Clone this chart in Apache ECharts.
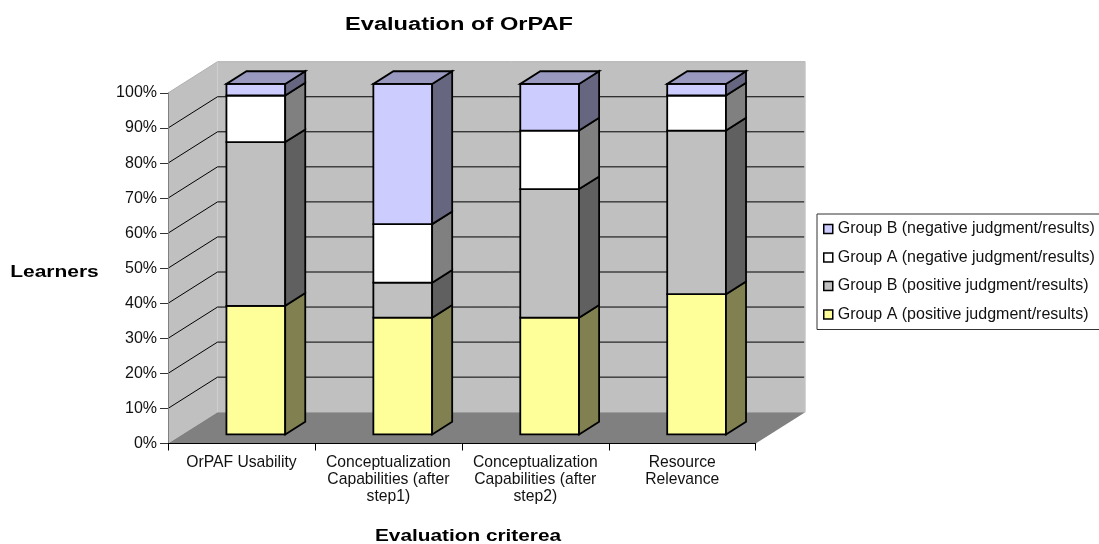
<!DOCTYPE html>
<html><head><meta charset="utf-8">
<style>html,body{margin:0;padding:0;background:#fff}#c{width:1099px;height:544px}</style>
<script src="https://cdn.jsdelivr.net/npm/echarts@6/dist/echarts.min.js"></script>
</head><body><div id="c"></div>
<script>
const chartTitle = 'Evaluation of OrPAF';
const xAxisTitle = 'Evaluation criterea';
const yAxisTitle = 'Learners';
const categories = ['OrPAF Usability','Conceptualization\nCapabilities (after\nstep1)','Conceptualization\nCapabilities (after\nstep2)','Resource\nRelevance'];
const groupAPositive = [36.7, 33.3, 33.3, 40.0];
const groupBPositive = [46.7, 10.0, 36.7, 46.7];
const groupANegative = [13.3, 16.7, 16.7, 10.0];
const groupBNegative = [3.3, 40.0, 13.3, 3.3];
const gridTicks = [10,20,30,40,50,60,70,80,90];
const names = ['Group A (positive judgment/results)','Group B (positive judgment/results)','Group A (negative judgment/results)','Group B (negative judgment/results)'];

const FONT = '"Liberation Sans", Arial, sans-serif';
const DX = 49.5, DY = -31.3;       // depth vector of the 3D box
const FRONT = 0.29, BACK = 0.695;  // bar position within the depth
const BAR = 0.4;                   // bar width as share of band

function poly(points, fill, stroke, w){
  return {type:'polygon', shape:{points}, style:{fill, stroke, lineWidth:w||0}, silent:true};
}
function line(x1,y1,x2,y2,stroke,w){
  return {type:'line', shape:{x1,y1,x2,y2}, style:{stroke, lineWidth:w||1, fill:null}, silent:true};
}
function renderWalls(params, api){
  const x0 = api.coord([0,0])[0] - api.size([1,0])[0]/2;
  const x1 = x0 + api.size([1,0])[0]*categories.length;
  const y0 = api.coord([0,0])[1], y100 = api.coord([0,100])[1];
  const kids = [
    poly([[x0,y0],[x0+DX,y0+DY],[x0+DX,y100+DY],[x0,y100]],'#c0c0c0'),
    poly([[x0+DX,y0+DY],[x1+DX,y0+DY],[x1+DX,y100+DY],[x0+DX,y100+DY]],'#c0c0c0'),
    poly([[x0,y0],[x1,y0],[x1+DX,y0+DY],[x0+DX,y0+DY]],'#808080'),
    line(x0,y100,x0+DX,y100+DY,'#b0b0b0',1),
    line(x0+DX,y100+DY,x1+DX,y100+DY,'#b0b0b0',1),
    line(x1+DX,y100+DY,x1+DX,y0+DY,'#c8c8c8',1)
  ];
  gridTicks.forEach(t=>{
    const y = api.coord([0,t])[1];
    kids.push(line(x0,y,x0+DX,y+DY,'#000',1));
    kids.push(line(x0+DX,y+DY,x1+DX-1,y+DY,'#000',1));
  });
  return {type:'group', children:kids};
}
function makeBars(idx, front, side, top){
  return function(params, api){
    const i = api.value(0), base = api.value(1), val = api.value(2);
    const band = api.size([1,0])[0];
    const cx = api.coord([i,0])[0];
    const yb = api.coord([i,base])[1], yt = api.coord([i,base+val])[1];
    const fx = DX*FRONT, fy = DY*FRONT, bx = DX*BACK, by = DY*BACK;
    const L = cx - band*BAR/2 + fx, R = cx + band*BAR/2 + fx;
    const depX = bx-fx, depY = by-fy;
    const s = '#000', w = 1.8;
    const kids = [
      poly([[L,yb+fy],[R,yb+fy],[R,yt+fy],[L,yt+fy]],front,s,w),
      poly([[R,yb+fy],[R+depX,yb+fy+depY],[R+depX,yt+fy+depY],[R,yt+fy]],side,s,w)
    ];
    if(top) kids.push(poly([[L,yt+fy],[R,yt+fy],[R+depX,yt+fy+depY],[L+depX,yt+fy+depY]],top,s,w));
    return {type:'group', children:kids};
  };
}
const stacks = [groupAPositive, groupBPositive, groupANegative, groupBNegative];
const styles = [
  ['#ffff99','#808050',null],
  ['#c0c0c0','#606060',null],
  ['#ffffff','#808080',null],
  ['#ccccff','#666680','#9999bf']
];
const running = categories.map(()=>0);
const barSeries = stacks.map((vals,k)=>{
  const data = vals.map((v,i)=>{ const d=[i,running[i],v]; running[i]+=v; return d; });
  return {
    type:'custom', name:names[k], coordinateSystem:'cartesian2d', z:3+k,
    itemStyle:{color:styles[k][0]},
    encode:{x:0,y:[1,2]},
    renderItem:makeBars(k,styles[k][0],styles[k][1],styles[k][2]),
    data
  };
});
function wideText(text,x,y,size,sx){
  return {type:'text',x,y,scaleX:sx,silent:true,
    style:{text,fontFamily:FONT,fontWeight:'bold',fontSize:size,fill:'#000',textAlign:'center',textVerticalAlign:'middle'}};
}
const chart = echarts.init(document.getElementById('c'),null,{renderer:'canvas'});
chart.setOption({
  animation:false,
  backgroundColor:'#fff',
  textStyle:{fontFamily:FONT},
  grid:{left:168,right:343.3,top:93,bottom:100.5,outerBoundsMode:'none'},
  xAxis:{type:'category',data:categories,z:5,
    axisLine:{lineStyle:{color:'#000',width:1}},
    axisTick:{show:true,length:7,lineStyle:{color:'#000'}},
    axisLabel:{fontFamily:FONT,fontSize:15.7,color:'#111',lineHeight:17,margin:10.5,interval:0},
    splitLine:{show:false}},
  yAxis:{type:'value',min:0,max:100,interval:10,z:5,
    axisLine:{show:true,lineStyle:{color:'#808080',width:1}},
    axisTick:{show:true,length:8,lineStyle:{color:'#333'}},
    axisLabel:{fontFamily:FONT,fontSize:16,color:'#111',margin:11,formatter:'{value}%'},
    splitLine:{show:false}},
  legend:{orient:'vertical',left:817,top:214,
    data:[names[3],names[2],names[1],names[0]],
    selectedMode:false,icon:'rect',itemWidth:9,itemHeight:9,itemGap:12.5,
    padding:[7,30,7,6],
    borderColor:'#333',borderWidth:1,backgroundColor:'#fff',
    itemStyle:{borderColor:'#000',borderWidth:1.5},
    textStyle:{fontFamily:FONT,fontSize:16,color:'#111'}},
  graphic:[
    wideText(chartTitle,459,25,17.5,1.35),
    wideText(xAxisTitle,468,537,16,1.30),
    wideText(yAxisTitle,54.5,273,16,1.31)
  ],
  series:[
    {type:'custom',name:'walls',coordinateSystem:'cartesian2d',z:1,silent:true,
     renderItem:renderWalls,encode:{x:0,y:1},data:[[0,0]]},
    ...barSeries
  ]
});
</script></body></html>
